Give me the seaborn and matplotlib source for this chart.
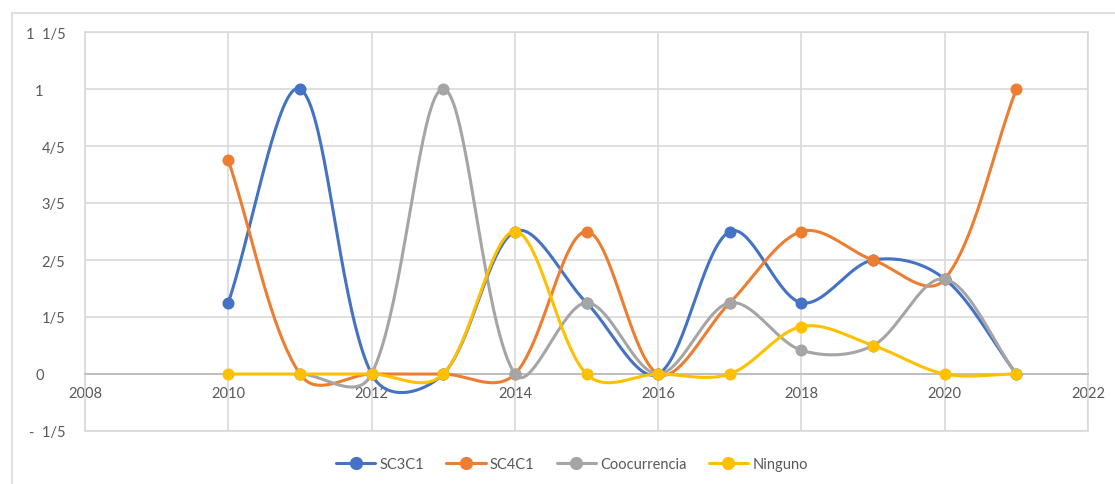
import numpy as np
import pandas as pd
import matplotlib
matplotlib.use("Agg")
import matplotlib.pyplot as plt
import seaborn as sns
from matplotlib.lines import Line2D
from matplotlib.patches import Rectangle
from matplotlib.transforms import ScaledTranslation

# --- data -------------------------------------------------------------
years = [2010, 2011, 2012, 2013, 2014, 2015, 2016, 2017, 2018, 2019, 2020, 2021]
sc3c1 = [0.25, 1, 0, 0, 0.5, 0.25, 0, 0.5, 0.25, 0.4, 1 / 3, 0]
sc4c1 = [0.75, 0, 0, 0, 0, 0.5, 0, 0.25, 0.5, 0.4, 1 / 3, 1]
coocurrencia = [np.nan, 0, 0, 1, 0, 0.25, 0, 0.25, 1 / 12, 0.1, 1 / 3, 0]
ninguno = [0, 0, 0, 0, 0.5, 0, 0, 0, 1 / 6, 0.1, 0, 0]

series_names = ["SC3C1", "SC4C1", "Coocurrencia", "Ninguno"]
series_values = [sc3c1, sc4c1, coocurrencia, ninguno]
colors = ["#4472C4", "#ED7D31", "#A5A5A5", "#FFC000"]

y_ticks = [-0.2, 0, 0.2, 0.4, 0.6, 0.8, 1.0, 1.2]
y_labels = ["-  1/5", "0", "1/5", "2/5", "3/5", "4/5", "1", "1  1/5"]
x_ticks = [2008, 2010, 2012, 2014, 2016, 2018, 2020, 2022]


def smooth(xs, ys, n=40, yscale=2.0, f=1 / 6):
    """Cubic Bezier smoothing through every point, with tangent lengths
    weighted by the neighbouring segment lengths."""
    p = np.column_stack([xs, ys]).astype(float)

    def dist(a, b):
        return np.hypot(a[0] - b[0], (a[1] - b[1]) * yscale)

    out = []
    for i in range(len(p) - 1):
        p0 = p[i - 1] if i > 0 else p[i]
        p1, p2 = p[i], p[i + 1]
        p3 = p[i + 2] if i + 2 < len(p) else p[i + 1]
        d01, d12, d23 = dist(p0, p1), dist(p1, p2), dist(p2, p3)
        w1 = 2 * d12 / (d01 + d12) if d01 + d12 > 0 else 1.0
        w2 = 2 * d12 / (d12 + d23) if d12 + d23 > 0 else 1.0
        c1 = p1 + (p2 - p0) * f * w1
        c2 = p2 - (p3 - p1) * f * w2
        t = np.linspace(0, 1, n)[:, None]
        seg = ((1 - t) ** 3) * p1 + 3 * ((1 - t) ** 2) * t * c1 \
            + 3 * (1 - t) * t ** 2 * c2 + t ** 3 * p2
        out.append(seg if i == 0 else seg[1:])
    return np.vstack(out)


# --- figure -----------------------------------------------------------
sns.set_theme(style="white")
plt.rcParams["font.family"] = ["Lato", "DejaVu Sans"]
text_color = "#595959"
grid_color = "#D9D9D9"

fig = plt.figure(figsize=(11.15, 4.85), dpi=100)
fig.patch.set_facecolor("white")

# chart-area frame
fig.patches.append(Rectangle((12 / 1115, -0.5), 2.0, 1 - 14 / 485 + 0.5,
                             transform=fig.transFigure, fill=False,
                             edgecolor=grid_color, lw=1.2))

ax = fig.add_axes([85 / 1115, 1 - 432 / 485, 1003 / 1115, 399 / 485])

for i, (name, vals, col) in enumerate(zip(series_names, series_values, colors)):
    df = pd.DataFrame({"year": years, "value": vals}).dropna()
    curve = smooth(df["year"].values, df["value"].values)
    cdf = pd.DataFrame({"x": curve[:, 0], "y": curve[:, 1]})
    sns.lineplot(data=cdf, x="x", y="y", ax=ax, color=col, lw=2.2,
                 sort=False, estimator=None, zorder=3 + 2 * i)
    sns.scatterplot(data=df, x="year", y="value", ax=ax, color=col, s=75,
                    edgecolor=col, linewidth=0, zorder=4 + 2 * i)

ax.set_xlim(2008, 2022)
ax.set_ylim(-0.2, 1.2)
ax.set_xticks(x_ticks)
ax.set_xticklabels([str(v) for v in x_ticks])
ax.set_yticks(y_ticks)
ax.set_yticklabels(y_labels)
ax.set_xlabel("")
ax.set_ylabel("")
ax.grid(True, color=grid_color, lw=1.2)
ax.set_axisbelow(True)

for side in ["left", "right", "top"]:
    ax.spines[side].set_color(grid_color)
    ax.spines[side].set_linewidth(1.2)
ax.spines["bottom"].set_position(("data", 0))
ax.spines["bottom"].set_color("#BFBFBF")
ax.spines["bottom"].set_linewidth(1.4)
ax.axhline(-0.2, color=grid_color, lw=1.2, clip_on=False, zorder=1)

ax.tick_params(axis="both", length=0, colors=text_color, labelsize=10.5)
ax.tick_params(axis="x", pad=8.5)
ax.tick_params(axis="y", pad=14)

# whole-number labels sit left of the fraction column
for lab in ax.get_yticklabels():
    if lab.get_text() in ("0", "1"):
        lab.set_transform(lab.get_transform()
                          + ScaledTranslation(-22 / 100, 0, fig.dpi_scale_trans))

handles = [Line2D([0], [0], color=c, lw=2.2, marker="o", markersize=8.5)
           for c in colors]
fig.legend(handles, series_names, loc="center", ncol=4, frameon=False,
           bbox_to_anchor=(572 / 1115, 1 - 465 / 485), fontsize=10.5,
           handlelength=2.7, handletextpad=0.3, columnspacing=1.5,
           labelcolor=text_color)

fig.savefig("out.png", dpi=100, facecolor="white")
